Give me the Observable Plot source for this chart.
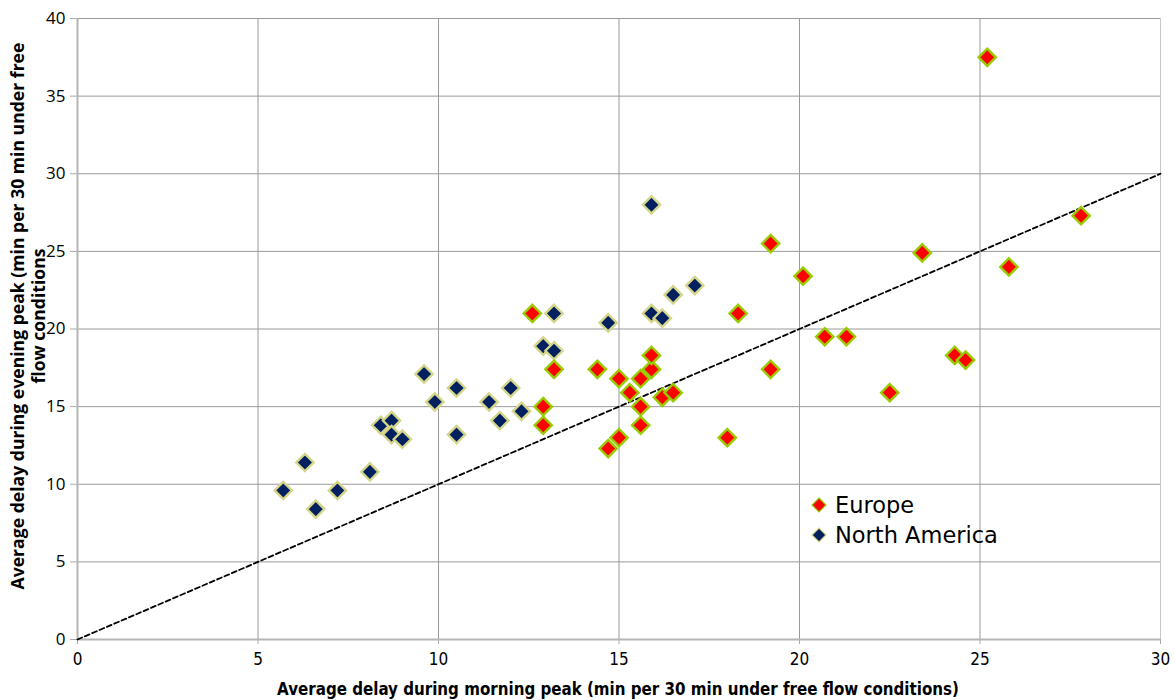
<!DOCTYPE html>
<html>
<head>
<meta charset="utf-8">
<script src="https://cdn.jsdelivr.net/npm/d3@7"></script>
<script src="https://cdn.jsdelivr.net/npm/@observablehq/plot@0.6"></script>
<style>
  html, body { margin: 0; padding: 0; background: #fff; }
  #wrap { position: relative; width: 1175px; height: 700px; }
  #legend { position: absolute; left: 811px; top: 490px; font-family: "DejaVu Sans", Verdana, sans-serif; font-size: 22.5px; line-height: 30px; color: #000; }
  #legend div { display: flex; align-items: center; }
  #legend svg { margin-right: 8px; }
</style>
</head>
<body>
<div id="wrap"><div id="legend"></div></div>
<script>
// Europe
const europeMorning = [12.6, 13.2, 12.9, 12.9, 14.4, 15.0, 15.3, 15.6, 15.9, 15.9, 15.6, 15.6, 15.0, 14.7, 16.2, 16.5, 18.0, 18.3, 19.2, 19.2, 20.1, 20.7, 21.3, 22.5, 23.4, 24.3, 24.6, 25.2, 25.8, 27.8];
const europeEvening = [21.0, 17.4, 15.0, 13.8, 17.4, 16.8, 15.9, 16.8, 17.4, 18.3, 15.0, 13.8, 13.0, 12.3, 15.6, 15.9, 13.0, 21.0, 25.5, 17.4, 23.4, 19.5, 19.5, 15.9, 24.9, 18.3, 18.0, 37.5, 24.0, 27.3];
// North America
const naMorning = [5.7, 6.3, 6.6, 7.2, 8.1, 8.4, 8.7, 8.7, 9.0, 9.6, 9.9, 10.5, 10.5, 11.4, 11.7, 12.0, 12.3, 12.9, 13.2, 13.2, 14.7, 15.9, 15.9, 16.2, 16.5, 17.1];
const naEvening = [9.6, 11.4, 8.4, 9.6, 10.8, 13.8, 14.1, 13.2, 12.9, 17.1, 15.3, 16.2, 13.2, 15.3, 14.1, 16.2, 14.7, 18.9, 18.6, 21.0, 20.4, 28.0, 21.0, 20.7, 22.2, 22.8];
const seriesNames = ["Europe", "North America"];
const xTicks = [0, 5, 10, 15, 20, 25, 30];
const yTicks = [0, 5, 10, 15, 20, 25, 30, 35, 40];
const diagonal = [0, 30];
const xLabel = "Average delay during morning peak (min per 30 min under free flow conditions)";
const yLabelLines = ["Average delay during evening peak (min per 30 min under free", "flow conditions"];

const fills = {"Europe": "#ff0000", "North America": "#002060"};
const strokes = {"Europe": "#99cc00", "North America": "#d6d68a"};

const europe = europeMorning.map((m, i) => ({series: "Europe", m, e: europeEvening[i]}));
const na = naMorning.map((m, i) => ({series: "North America", m, e: naEvening[i]}));
const diag = diagonal.map(v => ({m: v, e: v}));

const chart = Plot.plot({
  width: 1175,
  height: 700,
  marginLeft: 77,
  marginRight: 15,
  marginTop: 18,
  marginBottom: 61,
  style: {background: "#fff", overflow: "visible"},
  x: {domain: [0, 30], ticks: xTicks, label: null},
  y: {domain: [0, 40], ticks: yTicks, label: null},
  marks: [
    Plot.gridX(xTicks, {stroke: "#9a9a9a", strokeOpacity: 1, strokeWidth: 1}),
    Plot.gridY(yTicks, {stroke: "#9a9a9a", strokeOpacity: 1, strokeWidth: 1}),
    Plot.axisX(xTicks, {tickSize: 5, stroke: "#aaa", tickPadding: 8, fontSize: 17, fontFamily: "DejaVu Sans Condensed, sans-serif", fill: "#000", label: null, tickFormat: d => String(d)}),
    Plot.axisY(yTicks, {tickSize: 7, stroke: "#aaa", tickPadding: 5, fontSize: 17, fontFamily: "Open Sans, sans-serif", fill: "#000", label: null, tickFormat: d => String(d)}),
    Plot.ruleX([0], {stroke: "#b5b5b5", strokeWidth: 2}),
    Plot.ruleY([0], {stroke: "#b5b5b5", strokeWidth: 2}),
    Plot.ruleX([30], {stroke: "#c8c8c8", strokeWidth: 1}),
    Plot.line(diag, {x: "m", y: "e", stroke: "#000", strokeWidth: 1.8, strokeDasharray: "5,3"}),
    Plot.dot(na, {x: "m", y: "e", symbol: "diamond2", r: 7.8, fill: fills["North America"], stroke: strokes["North America"], strokeWidth: 2.4}),
    Plot.dot(europe, {x: "m", y: "e", symbol: "diamond2", r: 7.8, fill: fills["Europe"], stroke: strokes["Europe"], strokeWidth: 2.4})
  ]
});

const svg = d3.select(chart);
svg.append("text")
  .attr("x", 618).attr("y", 695)
  .attr("text-anchor", "middle")
  .attr("font-family", "DejaVu Sans Condensed, sans-serif")
  .attr("font-weight", "bold")
  .attr("font-size", 16.8)
  .attr("fill", "#000")
  .text(xLabel);
const yl = svg.append("text")
  .attr("transform", "translate(24,316) rotate(-90)")
  .attr("text-anchor", "middle")
  .attr("font-family", "Open Sans, sans-serif")
  .attr("font-weight", "bold")
  .attr("font-size", 17.6)
  .attr("fill", "#000");
yl.append("tspan").attr("x", 0).attr("dy", 0).text(yLabelLines[0]);
yl.append("tspan").attr("x", 0).attr("dy", 21).text(yLabelLines[1]);

document.getElementById("wrap").prepend(chart);

const legend = d3.select("#legend");
seriesNames.forEach(name => {
  const row = legend.append("div");
  const s = row.append("svg").attr("width", 16).attr("height", 16);
  s.append("path").attr("d", "M8,1L15,8L8,15L1,8Z").attr("fill", fills[name]).attr("stroke", strokes[name]).attr("stroke-width", 1.2);
  row.append("span").text(name);
});
</script>
</body>
</html>
